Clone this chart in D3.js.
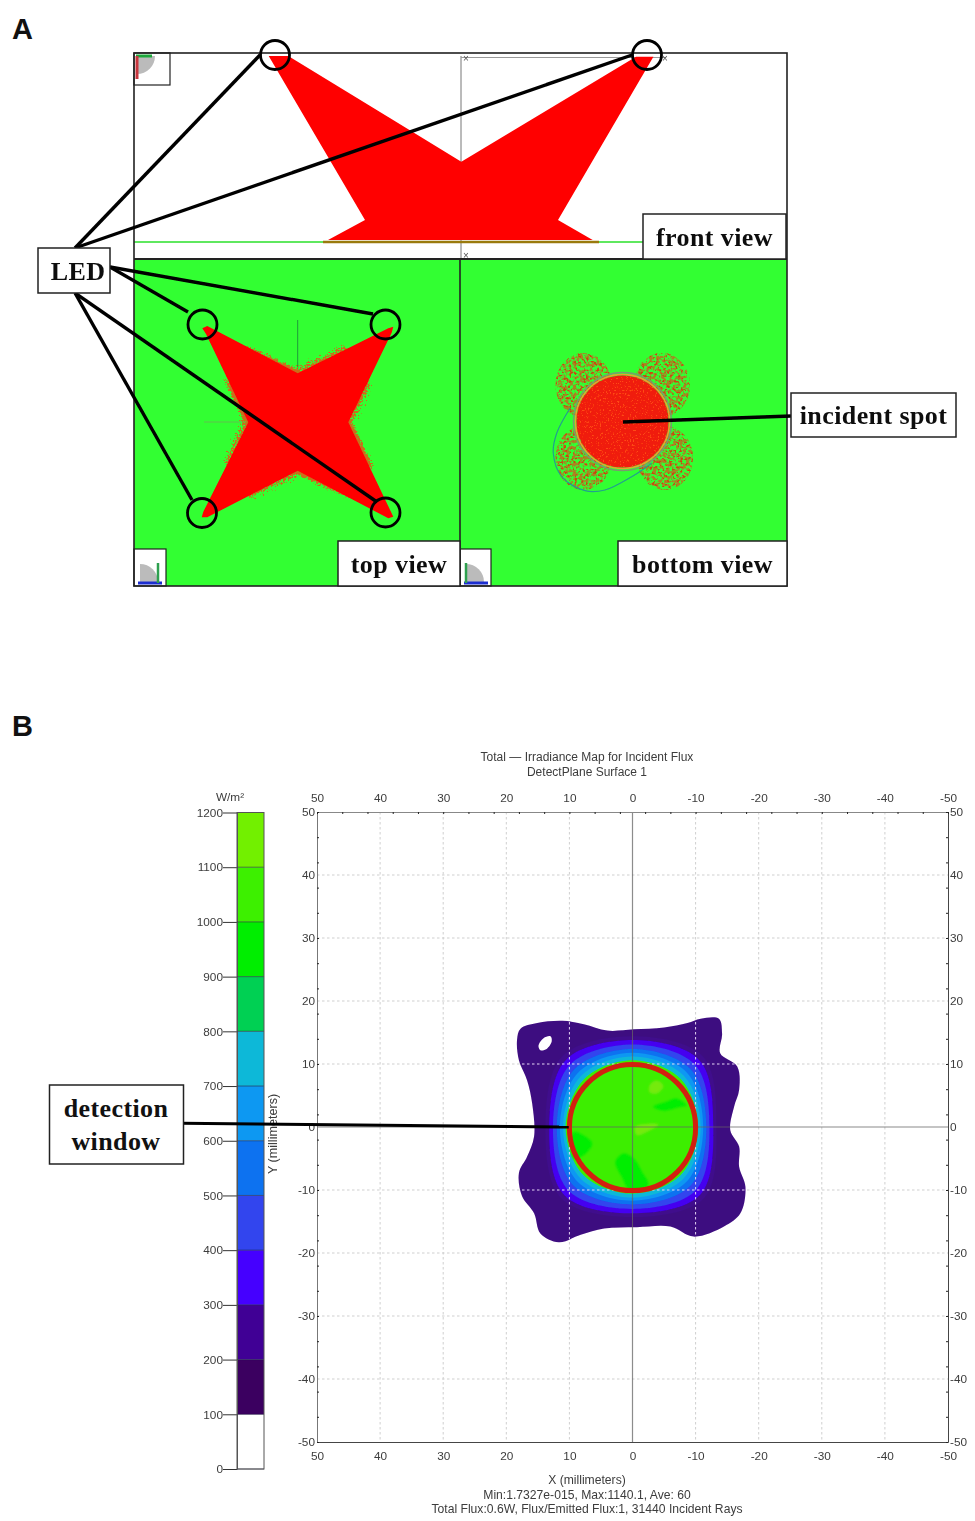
<!DOCTYPE html>
<html>
<head>
<meta charset="utf-8">
<script src="https://cdn.jsdelivr.net/npm/d3@7"></script>
<style>
html, body { margin: 0; padding: 0; background: #fff; }
svg { display: block; }
.lab { font-family: "Liberation Serif", serif; font-weight: bold; fill: #111; text-anchor: middle; letter-spacing: 0.4px; }
.panelLetter { font-family: "Liberation Sans", sans-serif; font-weight: bold; font-size: 29px; fill: #111; }
.sim text { font-family: "Liberation Sans", sans-serif; font-size: 11.8px; fill: #3c3c3c; }
</style>
</head>
<body>
<svg></svg>
<script>
const size = {w: 975, h: 1521};

// panel A, schematic units (frame is 653 x 533)
const frontBeam = [[134.7,3],[154.3,3],[327.3,108.7],[502,3.7],[519.4,3.7],[424,167],[458.7,187],[194,187],[231,167]];
const topStar = [[68.3,275.3],[73.3,273],[163.7,320.3],[254.3,275.3],[259.3,273.7],[257.7,279.7],[214.3,369.3],[259.3,463.7],[254.3,465.3],[163.7,417.7],[73.3,464.3],[67.7,464.3],[69.3,458.7],[114.3,369.3],[72,281]];
const starFringe = [[163.7,318],[212,296],[234,330],[216,369],[236,410],[212,442],[163.7,420],[115,442],[93,410],[112,369],[94,330],[115,296]];
const ledFront = [[141,2],[513,2]];
const ledTop = [[68.5,271.5],[251.5,271.5],[68,460],[251.5,459.5]];
const leadEnds = [
  [[-59,195],[126,2]],
  [[-59,195],[498,2]],
  [[-24,214],[54,259]],
  [[-24,214],[239,261]],
  [[-59,240],[243,449]],
  [[-59,240],[58,447]],
  [[657,363],[489,369]]
];
const lobeX = [449.5, 528, 449.5, 531];
const lobeY = [332, 332, 405, 405];
const spot = {x: 488.5, y: 368.5, r: 46};
const tealArc = [[436,355.3],[422.7,380.3],[419.3,400.3],[427.7,423.7],[451,437.7],[471,437],[497.7,423.7],[517.7,410.3]];
const labelBoxes = [
  {t: 'front view', x: 509, y: 161, w: 143, h: 45, dx: 0},
  {t: 'top view', x: 204, y: 488, w: 122, h: 45, dx: 0},
  {t: 'bottom view', x: 484, y: 488, w: 169, h: 45, dx: 0},
  {t: 'incident spot', x: 657, y: 340, w: 165, h: 44, dx: 0},
  {t: 'LED', x: -96, y: 195, w: 72, h: 45, dx: 4}
];

// panel B, colour bar
const barLevels = [0,100,200,300,400,500,600,700,800,900,1000,1100];
const barColors = ['#ffffff','#3b0060','#3f0095','#4400ff','#3044ee','#0a72f0','#0a98f2','#10b8d8','#00d052','#00ee00','#3cf000','#72f000'];
const barTicks = [0,100,200,300,400,500,600,700,800,900,1000,1100,1200];

// panel B, irradiance map in millimetres (outline of the 100 W/m2 contour)
const outerBlob = [[17.75,15.6],[15.1,16.5],[11.1,16.85],[7.7,16.3],[4,15.3],[-0.2,15.5],[-5,15.8],[-8.7,16.5],[-10.8,17.2],[-13.7,17.2],[-14.2,14.8],[-13.9,11.7],[-16.6,9.6],[-16.9,5.9],[-16.1,3.2],[-15.5,-0.5],[-16.9,-3.1],[-16.9,-6.3],[-17.9,-9.5],[-17.1,-13.7],[-14.5,-15.8],[-9.7,-17.4],[-6,-15.8],[-0.7,-15.9],[4.5,-16.1],[8.2,-17.1],[11.7,-18.3],[14.6,-16.9],[15.6,-13.7],[17.5,-11],[18,-7.3],[16.7,-4.7],[15.6,-1.5],[15.9,3.75],[16.7,7.4],[18,10.6],[18.3,13.8]];
const holeOutline = [[14.9,12.9],[14.1,14.1],[13,14.4],[12.8,13.6],[13.6,12.4],[14.6,12.2]];
// contour radius (mm) read at E, NE, N, NW, W, SW, S, SE
const contourAngles = [0,45,90,135,180,225,270,315];
const contourLevels = [
  [13.8,15.8,14.4,15.8,13.3,16,14.3,16],
  [13.2,15,13.8,15,12.8,15.2,13.7,15.3],
  [12.6,14,13.1,14,12.2,14.2,13,14.3],
  [12,13,12.4,13,11.7,13.1,12.3,13.2],
  [11.5,12.2,11.8,12.2,11.2,12.2,11.7,12.3],
  [11,11.5,11.2,11.5,10.8,11.5,11.2,11.6],
  [10.6,10.8,10.6,10.8,10.4,10.8,10.6,10.9]
];
const mapColors = ['#3d0a80','#3f0a8c','#4400f0','#3044ee','#0a72f0','#0a98f2','#10b8d8','#3cee00'];
const patchDark = [
  [[2.7,-5.5],[1.4,-4.2],[-0.2,-5],[-1.5,-7.1],[-2.5,-9.2],[0.4,-10],[1.7,-7.9]],
  [[9.35,-0.8],[7.8,-1.3],[6.4,-2.6],[7.8,-4.5],[9.35,-5]],
  [[-3.3,3.2],[-5.4,4],[-7,4.5],[-8.6,3.4],[-7.6,3.2],[-4.9,2.6]]
];
const patchLight = [
  [[-2.7,6.6],[-3.9,7.4],[-4.9,6.5],[-3.9,5.3],[-2.7,5.5]],
  [[-0.4,0],[-2.3,0.5],[-4.1,0.4],[-2.3,-0.8],[-0.7,-1.3]]
];
const windowRadius = 10;
const windowLead = [[71.5,0.6],[10.1,0]];

const simTitle = ['Total \u2014 Irradiance Map for Incident Flux', 'DetectPlane Surface 1'];
const simFooter = ['X (millimeters)', 'Min:1.7327e-015, Max:1140.1, Ave: 60', 'Total Flux:0.6W, Flux/Emitted Flux:1, 31440 Incident Rays'];

const svg = d3.select('svg').attr('width', size.w).attr('height', size.h);
const defs = svg.append('defs');

// soft, slightly jpeg-ish look of the screenshots
defs.append('filter').attr('id', 'soft').append('feGaussianBlur').attr('stdDeviation', 0.35);
defs.append('filter').attr('id', 'softer').append('feGaussianBlur').attr('stdDeviation', 1);

const rough = defs.append('filter').attr('id', 'rough')
  .attr('x', '-15%').attr('y', '-15%').attr('width', '130%').attr('height', '130%');
rough.append('feTurbulence').attr('type', 'fractalNoise').attr('baseFrequency', 0.6).attr('numOctaves', 2).attr('seed', 4);
rough.append('feDisplacementMap').attr('in', 'SourceGraphic').attr('scale', 16);

const speckle = (id, freq, seed, rgb, gain, cut) => {
  const f = defs.append('filter').attr('id', id).attr('color-interpolation-filters', 'sRGB')
    .attr('x', '-15%').attr('y', '-15%').attr('width', '130%').attr('height', '130%');
  f.append('feTurbulence').attr('type', 'fractalNoise').attr('baseFrequency', freq).attr('numOctaves', 2).attr('seed', seed).attr('result', 'n');
  f.append('feColorMatrix').attr('in', 'n').attr('type', 'matrix')
    .attr('values', `0 0 0 0 ${rgb[0]} 0 0 0 0 ${rgb[1]} 0 0 0 0 ${rgb[2]} ${gain} 0 0 0 ${cut}`).attr('result', 'c');
  f.append('feComposite').attr('in', 'c').attr('in2', 'SourceGraphic').attr('operator', 'in');
};
speckle('specOrange', 0.3, 7, [0.66, 0.52, 0.14], 7, -3.2);
speckle('specRed', 0.36, 11, [0.78, 0.3, 0.06], 8, -4.5);
speckle('specLight', 0.6, 3, [1, 0.3, 0.08], 8, -4.8);

// panel A
const ax = d3.scaleLinear().domain([0, 653]).range([134, 787]);
const ay = d3.scaleLinear().domain([0, 533]).range([53, 586]);
const aLine = d3.line().x(d => ax(d[0])).y(d => ay(d[1]));
const closed = pts => aLine(pts) + 'Z';

const panelA = svg.append('g').classed('panelA', true).attr('filter', 'url(#soft)');

panelA.append('rect').attr('x', ax(0)).attr('y', ay(0)).attr('width', ax(653) - ax(0)).attr('height', ay(206) - ay(0)).attr('fill', '#fff');
panelA.append('rect').attr('x', ax(0)).attr('y', ay(206)).attr('width', ax(653) - ax(0)).attr('height', ay(533) - ay(206)).attr('fill', '#33ff33');

// front view
panelA.append('line').attr('x1', ax(0)).attr('x2', ax(510)).attr('y1', ay(189)).attr('y2', ay(189)).attr('stroke', '#5fe85f').attr('stroke-width', 2);
panelA.append('line').attr('x1', ax(327)).attr('x2', ax(327)).attr('y1', ay(3)).attr('y2', ay(206)).attr('stroke', '#777').attr('stroke-width', 1);
panelA.append('line').attr('x1', ax(327)).attr('x2', ax(532)).attr('y1', ay(4.5)).attr('y2', ay(4.5)).attr('stroke', '#999').attr('stroke-width', 1);
panelA.selectAll('.mark').data([[332,6],[531,6],[332,203]]).join('text')
  .attr('x', d => ax(d[0])).attr('y', d => ay(d[1])).attr('dy', 3)
  .attr('text-anchor', 'middle').attr('font-size', 10).attr('font-family', 'Liberation Sans').attr('fill', '#555').text('\u00d7');
panelA.append('path').attr('d', closed(frontBeam)).attr('fill', '#ff0000');
panelA.append('line').attr('x1', ax(189)).attr('x2', ax(465)).attr('y1', ay(189)).attr('y2', ay(189)).attr('stroke', '#9a7a10').attr('stroke-width', 2.5);

// top view
panelA.append('line').attr('x1', ax(163.7)).attr('x2', ax(163.7)).attr('y1', ay(267)).attr('y2', ay(320)).attr('stroke', '#1f9a3a').attr('stroke-width', 1);
panelA.append('line').attr('x1', ax(70)).attr('x2', ax(118)).attr('y1', ay(369)).attr('y2', ay(369)).attr('stroke', '#5fc050').attr('stroke-width', 1);
panelA.append('path').attr('d', closed(starFringe)).attr('fill', '#c8701a').attr('stroke', '#c8701a').attr('stroke-width', 3).attr('filter', 'url(#rough)');
panelA.append('path').attr('d', closed(topStar)).attr('fill', '#ff0000');

// bottom view
const lobes = panelA.append('g');
const lobeData = lobeX.map((x, i) => ({x: x, y: lobeY[i]}));
['specOrange', 'specRed'].forEach(id => {
  lobes.append('g').attr('filter', `url(#${id})`)
    .selectAll('ellipse').data(lobeData).join('ellipse')
    .attr('cx', d => ax(d.x)).attr('cy', d => ay(d.y))
    .attr('rx', ax(28) - ax(0)).attr('ry', ay(32) - ay(0)).attr('fill', '#000');
});
panelA.append('circle').attr('cx', ax(spot.x)).attr('cy', ay(spot.y)).attr('r', spot.r + 3)
  .attr('fill', 'none').attr('stroke', '#7a9a70').attr('stroke-width', 1.4);
panelA.append('path').attr('d', d3.line().curve(d3.curveCatmullRom).x(d => ax(d[0])).y(d => ay(d[1]))(tealArc))
  .attr('fill', 'none').attr('stroke', '#20a090').attr('stroke-width', 1.2);
panelA.append('circle').attr('cx', ax(spot.x)).attr('cy', ay(spot.y)).attr('r', spot.r + 1)
  .attr('fill', 'none').attr('stroke', '#e8a030').attr('stroke-width', 1.5);
panelA.append('circle').attr('cx', ax(spot.x)).attr('cy', ay(spot.y)).attr('r', spot.r).attr('fill', '#f01a08');
panelA.append('g').attr('filter', 'url(#specLight)')
  .append('circle').attr('cx', ax(spot.x)).attr('cy', ay(spot.y)).attr('r', spot.r).attr('fill', '#000');

// small orientation icons
const icons = [{x: 0, y: 0, w: 36, h: 32, kind: 'front'}, {x: 0, y: 496, w: 32, h: 37, kind: 'top'}, {x: 326, y: 496, w: 31, h: 37, kind: 'bottom'}];
icons.forEach(ic => {
  const g = panelA.append('g');
  g.append('rect').attr('x', ax(ic.x)).attr('y', ay(ic.y)).attr('width', ic.w).attr('height', ic.h)
    .attr('fill', '#fff').attr('stroke', '#222').attr('stroke-width', 1.2);
  if (ic.kind === 'front') {
    g.append('path').attr('d', `M${ax(3)},${ay(3)} L${ax(21)},${ay(3)} A18,18 0 0 1 ${ax(3)},${ay(21)}Z`).attr('fill', '#bbb');
    g.append('line').attr('x1', ax(2)).attr('x2', ax(18)).attr('y1', ay(3)).attr('y2', ay(3)).attr('stroke', '#1fa83a').attr('stroke-width', 3);
    g.append('line').attr('x1', ax(3)).attr('x2', ax(3)).attr('y1', ay(3)).attr('y2', ay(26)).attr('stroke', '#c8343c').attr('stroke-width', 3);
  } else {
    const bx = ic.kind === 'top' ? ic.x + 24 : ic.x + 6;
    g.append('path').attr('d', `M${ax(ic.x + 24)},${ay(529)} A18,18 0 0 0 ${ax(ic.x + 6)},${ay(511)} L${ax(ic.x + 6)},${ay(529)}Z`).attr('fill', '#bbb');
    g.append('line').attr('x1', ax(ic.x + 4)).attr('x2', ax(ic.x + 28)).attr('y1', ay(530)).attr('y2', ay(530)).attr('stroke', '#1c2fd0').attr('stroke-width', 3);
    g.append('line').attr('x1', ax(bx)).attr('x2', ax(bx)).attr('y1', ay(510)).attr('y2', ay(530)).attr('stroke', '#2fa050').attr('stroke-width', 2.5);
  }
});

// frame
panelA.append('rect').attr('x', ax(0)).attr('y', ay(0)).attr('width', ax(653) - ax(0)).attr('height', ay(533) - ay(0))
  .attr('fill', 'none').attr('stroke', '#222').attr('stroke-width', 1.6);
panelA.append('line').attr('x1', ax(0)).attr('x2', ax(653)).attr('y1', ay(206)).attr('y2', ay(206)).attr('stroke', '#222').attr('stroke-width', 2);
panelA.append('line').attr('x1', ax(326)).attr('x2', ax(326)).attr('y1', ay(206)).attr('y2', ay(533)).attr('stroke', '#222').attr('stroke-width', 1.6);

// leads and LED circles
panelA.selectAll('.lead').data(leadEnds).join('line').classed('lead', true)
  .attr('x1', d => ax(d[0][0])).attr('y1', d => ay(d[0][1]))
  .attr('x2', d => ax(d[1][0])).attr('y2', d => ay(d[1][1]))
  .attr('stroke', '#000').attr('stroke-width', 3.4);
panelA.selectAll('.ledF').data(ledFront).join('circle').classed('ledF', true)
  .attr('cx', d => ax(d[0])).attr('cy', d => ay(d[1])).attr('r', 14.5)
  .attr('fill', 'none').attr('stroke', '#000').attr('stroke-width', 2.8);
panelA.selectAll('.ledT').data(ledTop).join('circle').classed('ledT', true)
  .attr('cx', d => ax(d[0])).attr('cy', d => ay(d[1])).attr('r', 14.5)
  .attr('fill', 'none').attr('stroke', '#000').attr('stroke-width', 2.8);

// view labels
const boxes = panelA.selectAll('.box').data(labelBoxes).join('g').classed('box', true);
boxes.append('rect').attr('x', d => ax(d.x)).attr('y', d => ay(d.y)).attr('width', d => d.w).attr('height', d => d.h)
  .attr('fill', '#fff').attr('stroke', '#222').attr('stroke-width', 1.5);
boxes.append('text').classed('lab', true).attr('x', d => ax(d.x) + d.w / 2 + d.dx).attr('y', d => ay(d.y) + d.h / 2 + 9)
  .attr('font-size', 26).text(d => d.t);

svg.append('text').classed('panelLetter', true).attr('x', 12).attr('y', 39).text('A');
svg.append('text').classed('panelLetter', true).attr('x', 12).attr('y', 736).text('B');

// panel B
const x = d3.scaleLinear().domain([50, -50]).range([317, 948]);
const y = d3.scaleLinear().domain([50, -50]).range([812, 1442]);
const c = d3.scaleLinear().domain([0, 1200]).range([1469, 812.5]);
const mmLine = d3.line().x(d => x(d[0])).y(d => y(d[1])).curve(d3.curveCatmullRomClosed.alpha(0.5));

const sim = svg.append('g').classed('sim', true).attr('filter', 'url(#soft)');

// colour bar
const barX = 237, barW = 27;
sim.selectAll('.band').data(barLevels).join('rect').classed('band', true)
  .attr('x', barX).attr('width', barW)
  .attr('y', d => c(d + 100)).attr('height', d => c(d) - c(d + 100))
  .attr('fill', (d, i) => barColors[i]);
sim.append('g').attr('transform', `translate(${barX},0)`)
  .call(d3.axisLeft(c).tickValues(barTicks).tickSize(14).tickPadding(0).tickSizeOuter(0).tickFormat(String))
  .call(g => g.select('.domain').attr('stroke', '#555'))
  .call(g => g.selectAll('.tick line').attr('stroke', '#333'));
sim.selectAll('.sep').data(barTicks).join('line').classed('sep', true)
  .attr('x1', barX).attr('x2', barX + barW).attr('y1', d => c(d)).attr('y2', d => c(d))
  .attr('stroke', '#224').attr('stroke-opacity', 0.6).attr('stroke-width', 1);
sim.append('rect').attr('x', barX).attr('y', c(1200)).attr('width', barW).attr('height', c(0) - c(1200))
  .attr('fill', 'none').attr('stroke', '#555').attr('stroke-width', 1);
sim.append('text').attr('x', 230).attr('y', 801).attr('text-anchor', 'middle').text('W/m\u00b2');
sim.append('text').attr('transform', 'translate(277,1134) rotate(-90)').attr('text-anchor', 'middle').style('font-size', '12.6px').text('Y (millimeters)');

// grid under the map
const gridVals = d3.range(40, -41, -10).filter(d => d !== 0);
const grid = (g, color) => {
  g.selectAll('.gx').data(gridVals).join('line').classed('gx', true)
    .attr('x1', d => x(d)).attr('x2', d => x(d)).attr('y1', y(50)).attr('y2', y(-50));
  g.selectAll('.gy').data(gridVals).join('line').classed('gy', true)
    .attr('x1', x(50)).attr('x2', x(-50)).attr('y1', d => y(d)).attr('y2', d => y(d));
  g.selectAll('line').attr('stroke', color).attr('stroke-width', 1).attr('stroke-dasharray', '2.5,2.5');
};
sim.append('g').call(grid, '#cfcfcf');

// map
const radial = radii => radii.map((r, i) => {
  const a = contourAngles[i] * Math.PI / 180;
  return [r * Math.cos(a), r * Math.sin(a)];
});
const blobPath = mmLine(outerBlob);
defs.append('clipPath').attr('id', 'blobClip').append('path').attr('d', blobPath);
sim.append('path').attr('d', blobPath).attr('fill', mapColors[0]);
sim.selectAll('.contour').data(contourLevels).join('path').classed('contour', true)
  .attr('d', d => mmLine(radial(d)))
  .attr('fill', (d, i) => mapColors[i + 1]);
sim.append('circle').attr('cx', x(0)).attr('cy', y(0)).attr('r', x(0) - x(windowRadius) + 2).attr('fill', mapColors[7]);
const patches = sim.append('g').attr('filter', 'url(#softer)');
patches.selectAll('.pd').data(patchDark).join('path').classed('pd', true).attr('d', d => mmLine(d)).attr('fill', '#06ee00');
patches.selectAll('.pl').data(patchLight).join('path').classed('pl', true).attr('d', d => mmLine(d)).attr('fill', '#74ea10');
sim.append('path').attr('d', mmLine(holeOutline)).attr('fill', '#fff');

// grid shows white through the map
sim.append('g').attr('clip-path', 'url(#blobClip)').call(grid, '#e6d8f4');

// centre lines
sim.append('line').attr('x1', x(0)).attr('x2', x(0)).attr('y1', y(50)).attr('y2', y(-50)).attr('stroke', '#666').attr('stroke-opacity', 0.75).attr('stroke-width', 1.2);
sim.append('line').attr('x1', x(50)).attr('x2', x(-50)).attr('y1', y(0)).attr('y2', y(0)).attr('stroke', '#666').attr('stroke-opacity', 0.75).attr('stroke-width', 1.2);

// axes
const major = d3.range(50, -51, -10);
const minor = d3.range(50, -51, -4);
const styleAxis = (g, col) => {
  g.select('.domain').attr('stroke', col);
  g.selectAll('.tick line').attr('stroke', '#222');
};
sim.append('g').attr('transform', `translate(0,${y(50)})`)
  .call(d3.axisTop(x).tickValues(major).tickSize(0).tickPadding(10).tickSizeOuter(0).tickFormat(String)).call(styleAxis, '#888');
sim.append('g').attr('transform', `translate(0,${y(-50)})`)
  .call(d3.axisBottom(x).tickValues(major).tickSize(0).tickPadding(10).tickSizeOuter(0).tickFormat(String)).call(styleAxis, '#444');
sim.append('g').attr('transform', `translate(${x(50)},0)`)
  .call(d3.axisLeft(y).tickValues(major).tickSize(0).tickPadding(2).tickSizeOuter(0).tickFormat(String)).call(styleAxis, '#777');
sim.append('g').attr('transform', `translate(${x(-50)},0)`)
  .call(d3.axisRight(y).tickValues(major).tickSize(0).tickPadding(2).tickSizeOuter(0).tickFormat(String)).call(styleAxis, '#444');
sim.append('g').attr('transform', `translate(0,${y(50)})`)
  .call(d3.axisBottom(x).tickValues(minor).tickSize(2).tickFormat('').tickSizeOuter(0)).call(g => g.select('.domain').remove()).call(styleAxis, '#000');
sim.append('g').attr('transform', `translate(${x(50)},0)`)
  .call(d3.axisRight(y).tickValues(minor).tickSize(2).tickFormat('').tickSizeOuter(0)).call(g => g.select('.domain').remove()).call(styleAxis, '#000');
sim.append('g').attr('transform', `translate(${x(-50)},0)`)
  .call(d3.axisLeft(y).tickValues(minor).tickSize(2).tickFormat('').tickSizeOuter(0)).call(g => g.select('.domain').remove()).call(styleAxis, '#000');
sim.selectAll('.tick text').attr('font-family', 'Liberation Sans').attr('font-size', 11.8).attr('fill', '#3c3c3c');

// titles
sim.selectAll('.ttl').data(simTitle).join('text').classed('ttl', true)
  .attr('x', 587).attr('y', (d, i) => 761 + i * 15).attr('text-anchor', 'middle').style('font-size', '12px').text(d => d);
sim.selectAll('.foot').data(simFooter).join('text').classed('foot', true)
  .attr('x', 587).attr('y', (d, i) => 1484 + i * 14.5).attr('text-anchor', 'middle').style('font-size', '12.15px').text(d => d);

// detection window, lead and its label sit on top
svg.append('circle').attr('cx', x(0)).attr('cy', y(0) + 0.5).attr('r', x(0) - x(windowRadius))
  .attr('fill', 'none').attr('stroke', '#d2200f').attr('stroke-width', 5);
svg.append('line').attr('x1', x(windowLead[0][0])).attr('y1', y(windowLead[0][1])).attr('x2', x(windowLead[1][0])).attr('y2', y(windowLead[1][1]))
  .attr('stroke', '#000').attr('stroke-width', 3);
svg.append('rect').attr('x', 49.5).attr('y', 1085).attr('width', 134).attr('height', 79).attr('fill', '#fff').attr('stroke', '#222').attr('stroke-width', 1.5);
svg.selectAll('.det').data(['detection', 'window']).join('text').classed('det lab', true)
  .attr('x', 116).attr('y', (d, i) => 1117 + i * 33).attr('font-size', 26).text(d => d);
</script>
</body>
</html>
